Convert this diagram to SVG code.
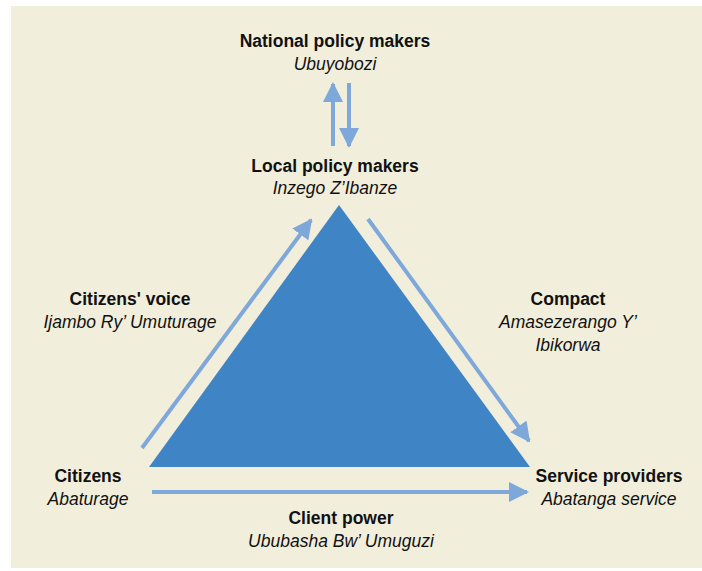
<svg xmlns="http://www.w3.org/2000/svg" width="702" height="571" viewBox="0 0 702 571">
<defs>
<style>
.b{font-family:"Liberation Sans",Arial,sans-serif;font-weight:bold;font-size:17.5px;fill:#111;text-anchor:middle}
.i{font-family:"Liberation Sans",Arial,sans-serif;font-style:italic;font-size:17.5px;fill:#111;text-anchor:middle}
.a{stroke:#7ea7da;stroke-width:4;fill:none}
</style>
<marker id="h" viewBox="0 0 10 10" refX="9" refY="5" markerWidth="5" markerHeight="5" markerUnits="strokeWidth" orient="auto">
<path d="M0,0 L10,5 L0,10 z" fill="#7ea7da"/>
</marker>
</defs>
<rect x="0" y="0" width="702" height="571" fill="#ffffff"/>
<rect x="11" y="6" width="691" height="562" fill="#f2eedc"/>
<g id="triangle"><polygon points="339,205 149,467 530,467" fill="#3f84c5"/></g>
<g id="connectors">
<line class="a" x1="333" y1="146" x2="333" y2="84" marker-end="url(#h)"/>
<line class="a" x1="349" y1="83" x2="349" y2="146" marker-end="url(#h)"/>
<line class="a" x1="142" y1="448" x2="311" y2="220" marker-end="url(#h)"/>
<line class="a" x1="368" y1="219" x2="529" y2="441" marker-end="url(#h)"/>
<line class="a" x1="152" y1="492" x2="527" y2="492" marker-end="url(#h)"/>
</g>
<g id="national"><text class="b" x="335" y="47">National policy makers</text><text class="i" x="335" y="70">Ubuyobozi</text></g>
<g id="local"><text class="b" x="335" y="172">Local policy makers</text><text class="i" x="335" y="194">Inzego Z’Ibanze</text></g>
<g id="voice"><text class="b" x="130" y="305">Citizens' voice</text><text class="i" x="130" y="328">Ijambo Ry’ Umuturage</text></g>
<g id="compact"><text class="b" x="568" y="305">Compact</text><text class="i" x="568" y="328">Amasezerango Y’</text><text class="i" x="568" y="351">Ibikorwa</text></g>
<g id="citizens"><text class="b" x="88" y="482">Citizens</text><text class="i" x="88" y="505">Abaturage</text></g>
<g id="providers"><text class="b" x="609" y="482">Service providers</text><text class="i" x="609" y="505">Abatanga service</text></g>
<g id="client"><text class="b" x="341" y="524">Client power</text><text class="i" x="341" y="547">Ububasha Bw’ Umuguzi</text></g>
</svg>
